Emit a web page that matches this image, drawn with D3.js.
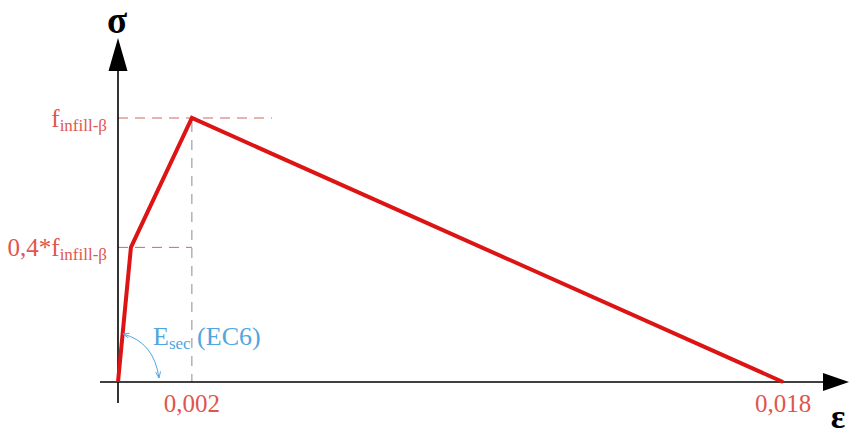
<!DOCTYPE html>
<html>
<head>
<meta charset="utf-8">
<script src="https://cdn.jsdelivr.net/npm/d3@7"></script>
<style>
  html, body { margin: 0; padding: 0; background: #fff; }
  svg { display: block; }
</style>
</head>
<body>
<svg id="chart" width="849" height="435"></svg>
<script>
// Stress–strain law of the infill strut (normalised stress, σ / f)
const strain = [0, 0.00035, 0.002, 0.018];
const stress = [0, 0.51, 1, 0];

// Reference levels marked on the axes
const stressMarks = [
  { value: 1,    pre: "",      main: "f", sub: "infill-β" },
  { value: 0.51, pre: "0,4*",  main: "f", sub: "infill-β" }
];
const strainTicks = [0.002, 0.018];
const strainTickLabels = ["0,002", "0,018"];

const width = 849, height = 435;
const svg = d3.select("#chart");

const x = d3.scaleLinear().domain([0, 0.018]).range([118, 783]);
const y = d3.scaleLinear().domain([0, 1]).range([382, 118]);

const serif = "'Liberation Serif', 'Times New Roman', serif";
const red = "#e0564e";
const axisColor = "#000";

// Dashed guide lines to the peak and the 0.4f point
const peakX = x(strain[2]);
svg.append("line")
  .attr("x1", x(0)).attr("x2", 272)
  .attr("y1", y(stress[2])).attr("y2", y(stress[2]))
  .attr("stroke", "#cf6660").attr("stroke-width", 1)
  .attr("stroke-dasharray", "10,7");
svg.append("line")
  .attr("x1", x(0)).attr("x2", peakX)
  .attr("y1", y(stress[1])).attr("y2", y(stress[1]))
  .attr("stroke", "#cf6660").attr("stroke-width", 1)
  .attr("stroke-dasharray", "10,7");
svg.append("line")
  .attr("x1", peakX).attr("x2", peakX)
  .attr("y1", y(stress[2]) + 4).attr("y2", y(0))
  .attr("stroke", "#8c8c8c").attr("stroke-width", 1)
  .attr("stroke-dasharray", "10,8");

// Axes with arrow heads
svg.append("line")
  .attr("x1", 100).attr("x2", 826)
  .attr("y1", y(0)).attr("y2", y(0))
  .attr("stroke", axisColor).attr("stroke-width", 1.6);
svg.append("path")
  .attr("d", `M823,${y(0) - 9}L849,${y(0)}L823,${y(0) + 9}Z`)
  .attr("fill", axisColor);
svg.append("line")
  .attr("x1", x(0)).attr("x2", x(0))
  .attr("y1", 403).attr("y2", 68)
  .attr("stroke", axisColor).attr("stroke-width", 1.6);
svg.append("path")
  .attr("d", `M${x(0) - 9.5},71L${x(0)},38L${x(0) + 9.5},71Z`)
  .attr("fill", axisColor);

// Axis symbols
svg.append("text")
  .attr("x", 117).attr("y", 33)
  .attr("text-anchor", "middle")
  .attr("font-family", serif).attr("font-weight", "bold")
  .attr("font-size", 37).attr("fill", "#000")
  .text("σ");
svg.append("text")
  .attr("x", 838).attr("y", 428)
  .attr("text-anchor", "middle")
  .attr("font-family", serif).attr("font-weight", "bold")
  .attr("font-size", 34).attr("fill", "#000")
  .text("ε");

// Constitutive law
const line = d3.line()
  .x(d => x(d[0]))
  .y(d => y(d[1]));
svg.append("path")
  .datum(d3.zip(strain, stress))
  .attr("d", line)
  .attr("fill", "none")
  .attr("stroke", "#dd1414")
  .attr("stroke-width", 4)
  .attr("stroke-linejoin", "miter");

// Stress labels on the left
stressMarks.forEach(m => {
  const t = svg.append("text")
    .attr("x", 107).attr("y", y(m.value) + 9)
    .attr("text-anchor", "end")
    .attr("font-family", serif).attr("fill", red)
    .attr("font-size", 25);
  t.append("tspan").text(m.pre + m.main);
  t.append("tspan").attr("font-size", 17).attr("dy", 4).text(m.sub);
});

// Strain labels under the axis
svg.selectAll(".strainLabel")
  .data(strainTicks)
  .enter().append("text")
  .attr("class", "strainLabel")
  .attr("x", d => x(d))
  .attr("y", 412)
  .attr("text-anchor", "middle")
  .attr("font-family", serif).attr("fill", red)
  .attr("font-size", 25)
  .text((d, i) => strainTickLabels[i]);

// Secant modulus annotation
const blue = "#4fa6e0";
const defs = svg.append("defs");
["start", "end"].forEach(k => {
  defs.append("marker")
    .attr("id", "arr-" + k)
    .attr("viewBox", "0 0 10 10")
    .attr("refX", 9).attr("refY", 5)
    .attr("markerWidth", 7).attr("markerHeight", 7)
    .attr("orient", k === "start" ? "auto-start-reverse" : "auto")
    .append("path")
    .attr("d", "M0,1.5L9,5L0,8.5")
    .attr("fill", "none").attr("stroke", blue).attr("stroke-width", 1.3);
});
svg.append("path")
  .attr("d", "M123,334Q154,342 159,378")
  .attr("fill", "none").attr("stroke", blue).attr("stroke-width", 1)
  .attr("marker-start", "url(#arr-start)")
  .attr("marker-end", "url(#arr-end)");
const et = svg.append("text")
  .attr("x", 153).attr("y", 345)
  .attr("font-family", serif).attr("fill", blue)
  .attr("font-size", 26);
et.append("tspan").text("E");
et.append("tspan").attr("font-size", 17).attr("dy", 4).text("sec");
et.append("tspan").attr("dy", -4).text(" (EC6)");
</script>
</body>
</html>
